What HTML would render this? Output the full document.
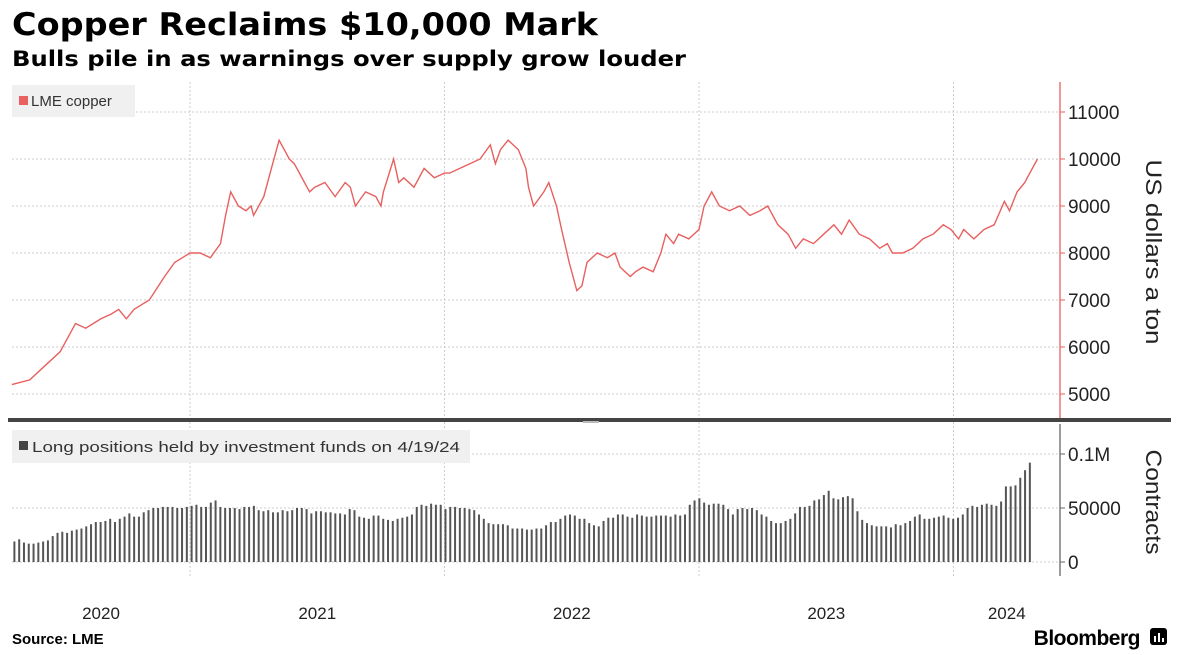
<!DOCTYPE html>
<html><head><meta charset="utf-8">
<style>
body{margin:0;background:#fff;width:1179px;height:655px;overflow:hidden;font-family:"Liberation Sans",sans-serif;}
svg{position:absolute;left:0;top:0;}
</style></head>
<body>
<svg width="1179" height="655" viewBox="0 0 1179 655">
<text x="12" y="35" font-size="31" font-weight="bold" fill="#000" textLength="586" lengthAdjust="spacingAndGlyphs" style="font-family:'DejaVu Sans',sans-serif">Copper Reclaims $10,000 Mark</text>
<text x="12" y="66" font-size="21" font-weight="bold" fill="#000" textLength="674" lengthAdjust="spacingAndGlyphs" style="font-family:'DejaVu Sans',sans-serif">Bulls pile in as warnings over supply grow louder</text>
<g id="grid"></g>
<rect x="12" y="85" width="123" height="32" fill="#f0f0f0"/>
<rect x="19" y="96" width="9" height="9" fill="#e8605f"/>
<text x="31" y="106" font-size="15" fill="#333">LME copper</text>
<rect x="12" y="430" width="458" height="33" fill="#f0f0f0"/>
<rect x="19" y="441" width="9" height="9" fill="#444"/>
<text x="32" y="452" font-size="15" fill="#333" textLength="428" lengthAdjust="spacingAndGlyphs">Long positions held by investment funds on 4/19/24</text>
<g id="bars"></g>
<path id="priceLine" fill="none" stroke="#e8605f" stroke-width="1.4"/>
<g id="axes"></g>
<rect x="8" y="418" width="1163" height="4" fill="#444"/>
<rect x="583" y="421" width="16" height="2" fill="#bbb"/>
<text transform="translate(1146,252) rotate(90)" text-anchor="middle" font-size="22" fill="#222" textLength="185" lengthAdjust="spacingAndGlyphs">US dollars a ton</text>
<text transform="translate(1146,502) rotate(90)" text-anchor="middle" font-size="22" fill="#222" textLength="105" lengthAdjust="spacingAndGlyphs">Contracts</text>
<text x="12" y="644" font-size="15" font-weight="bold" fill="#000">Source: LME</text>
<text x="1140" y="645" text-anchor="end" font-size="21" font-weight="bold" fill="#000" letter-spacing="-0.5">Bloomberg</text>
<g><rect x="1150" y="628" width="17" height="17" rx="3" fill="#000"/><rect x="1154" y="636" width="2" height="6" fill="#fff"/><rect x="1158" y="633" width="2" height="9" fill="#fff"/><rect x="1162" y="638" width="2" height="4" fill="#fff"/></g>
</svg>
<script>
const priceYears=[2020.30,2020.37,2020.43,2020.49,2020.53,2020.55,2020.59,2020.62,2020.65,2020.69,2020.72,2020.75,2020.78,2020.81,2020.84,2020.90,2020.94,2020.97,2021.00,
2021.04,2021.08,2021.12,2021.14,2021.16,2021.19,2021.22,2021.24,2021.25,2021.29,2021.32,2021.35,2021.37,2021.39,2021.41,2021.45,2021.47,2021.49,2021.53,2021.57,2021.61,2021.63,2021.65,2021.69,2021.73,2021.75,2021.76,2021.80,2021.82,2021.84,2021.88,2021.92,2021.96,2022.00,
2022.02,2022.06,2022.10,2022.14,2022.18,2022.20,2022.22,2022.25,2022.29,2022.32,2022.33,2022.35,2022.39,2022.41,2022.44,2022.46,2022.49,2022.52,2022.54,2022.56,2022.60,2022.64,2022.67,2022.69,2022.73,2022.75,2022.78,2022.82,2022.85,2022.87,2022.90,2022.92,2022.96,2023.00,
2023.02,2023.05,2023.08,2023.12,2023.16,2023.20,2023.24,2023.27,2023.31,2023.35,2023.38,2023.41,2023.45,2023.49,2023.53,2023.56,2023.59,2023.63,2023.67,2023.71,2023.74,2023.76,2023.80,2023.84,2023.88,2023.92,2023.96,2023.99,
2024.02,2024.04,2024.08,2024.12,2024.16,2024.20,2024.22,2024.25,2024.28,2024.30,2024.33];
const priceValues=[5200,5300,5600,5900,6300,6500,6400,6500,6600,6700,6800,6600,6800,6900,7000,7500,7800,7900,8000,
8000,7900,8200,8800,9300,9000,8900,9000,8800,9200,9800,10400,10200,10000,9900,9500,9300,9400,9500,9200,9500,9400,9000,9300,9200,9000,9300,10000,9500,9600,9400,9800,9600,9700,
9700,9800,9900,10000,10300,9900,10200,10400,10200,9800,9400,9000,9300,9500,9000,8500,7800,7200,7300,7800,8000,7900,8000,7700,7500,7600,7700,7600,8000,8400,8200,8400,8300,8500,
9000,9300,9000,8900,9000,8800,8900,9000,8600,8400,8100,8300,8200,8400,8600,8400,8700,8400,8300,8100,8200,8000,8000,8100,8300,8400,8600,8500,
8300,8500,8300,8500,8600,9100,8900,9300,9500,9700,10000];
const fundsStart=2020.31;
const fundsEnd=2024.30;
const fundsValues=[19,21,18,17,17,18,19,20,24,27,28,27,29,30,31,33,35,37,37,38,40,37,40,42,45,42,42,46,48,50,50,51,51,51,50,50,51,
52,53,51,51,55,57,51,50,50,50,49,51,51,52,48,47,48,46,46,48,47,48,50,50,49,45,47,47,46,46,45,45,44,49,48,42,41,40,43,43,40,39,38,40,41,42,44,51,53,52,54,53,
53,49,51,51,50,50,49,48,44,40,36,35,35,35,34,31,31,31,30,30,31,31,34,37,37,40,43,44,43,40,40,36,34,33,38,41,41,44,44,42,41,44,43,42,42,43,43,43,42,44,43,44,
53,57,59,55,53,54,54,53,49,44,49,50,49,50,48,44,42,38,36,36,38,40,45,51,51,52,57,58,62,66,59,58,60,61,59,47,39,36,34,33,33,33,32,35,34,36,38,42,44,40,40,41,
42,43,41,40,41,44,50,52,51,53,54,53,52,56,70,70,71,78,85,92];
const yearTicks=[2020,2021,2022,2023,2024];
const priceTicks=[5000,6000,7000,8000,9000,10000,11000];
const fundsTicks=[0,50000,100000];
const fundsTickLabels=["0","50000","0.1M"];

const NS="http://www.w3.org/2000/svg";
const X0=190,XS=254.5,PLEFT=12,PRIGHT=1060;
function xs(y){return X0+(y-2021)*XS;}
function yp(v){return 112+(11000-v)*47/1000;}
function yf(v){return 562-v*54/50000;}
function mk(tag,attrs,parent){const e=document.createElementNS(NS,tag);for(const k in attrs)e.setAttribute(k,attrs[k]);parent.appendChild(e);return e;}
const grid=document.getElementById('grid'),axes=document.getElementById('axes'),bars=document.getElementById('bars');
priceTicks.forEach(v=>{const l=mk('line',{x1:PLEFT,x2:PRIGHT,y1:yp(v),y2:yp(v),stroke:'#ccc','stroke-dasharray':'2,2'},grid);


const t=mk('text',{x:1068,y:yp(v)+7,'font-size':19,fill:'#222'},axes);t.textContent=v;


const tk=mk('line',{x1:PRIGHT,x2:PRIGHT+5,y1:yp(v),y2:yp(v),stroke:'#e8605f'},axes);

});
fundsTicks.forEach((v,i)=>{const l=mk('line',{x1:PLEFT,x2:PRIGHT,y1:yf(v),y2:yf(v),stroke:'#ccc','stroke-dasharray':'2,2'},grid);


const t=mk('text',{x:1068,y:yf(v)+7,'font-size':19,fill:'#222'},axes);t.textContent=fundsTickLabels[i];


const tk=mk('line',{x1:PRIGHT,x2:PRIGHT+5,y1:yf(v),y2:yf(v),stroke:'#666'},axes);

});
yearTicks.forEach(y=>{const x=xs(y);
if(x>PLEFT&&x<PRIGHT){const l=mk('line',{x1:x,x2:x,y1:82,y2:578,stroke:'#ccc','stroke-dasharray':'2,2'},grid);

}
const a=Math.max(xs(y),PLEFT),b=Math.min(xs(y+1),PRIGHT);
const t=mk('text',{x:(a+b)/2,y:619,'text-anchor':'middle','font-size':17,fill:'#222'},axes);t.textContent=y;

});
const ax1=mk('line',{x1:PRIGHT,x2:PRIGHT,y1:82,y2:418,stroke:'#e8605f','stroke-width':1.3},axes);


const ax2=mk('line',{x1:PRIGHT,x2:PRIGHT,y1:424,y2:576,stroke:'#666','stroke-width':1.3},axes);


const step=(fundsEnd-fundsStart)/(fundsValues.length-1);
fundsValues.forEach((v,i)=>{const x=xs(fundsStart+i*step);
const r=mk('rect',{x:x-1,y:yf(v*1000),width:2,height:yf(0)-yf(v*1000),fill:'#555'},bars);

});
document.getElementById('priceLine').setAttribute('d',priceYears.map((y,i)=>(i?'L':'M')+xs(y).toFixed(1)+','+yp(priceValues[i]).toFixed(1)).join(''));
</script>
</body></html>
